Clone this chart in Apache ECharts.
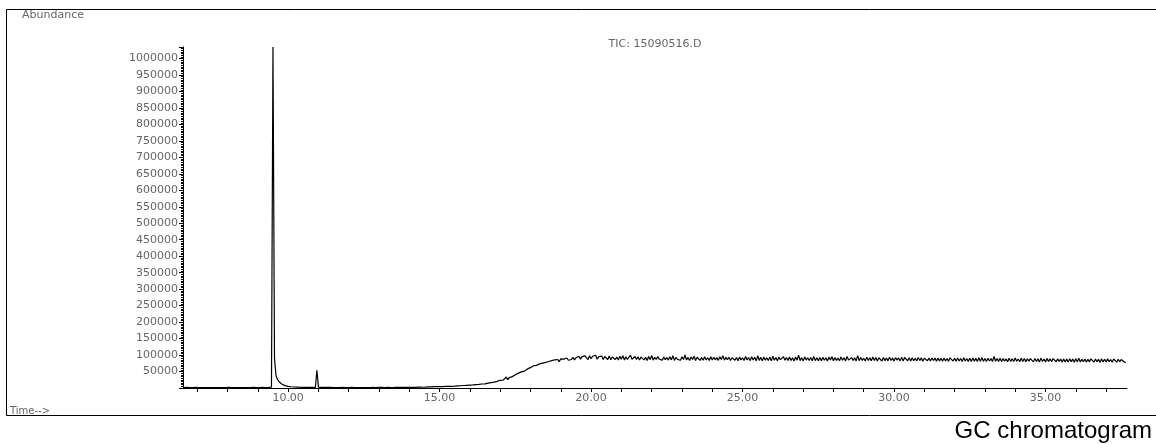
<!DOCTYPE html>
<html><head><meta charset="utf-8">
<script src="https://cdn.jsdelivr.net/npm/echarts@6/dist/echarts.min.js"></script>
<style>html,body{margin:0;padding:0;background:#fff}#c{width:1156px;height:444px}</style>
</head><body><div id="c"></div>
<script>
// Acquisition grid (minutes)
const scanStart = 6.55;
const scanStep = 0.05;
// Total ion current abundance, one value per scan
const abundance = [
1500,1300,1600,1200,1500,1400,1100,1500,1600,1300,1200,1500,1400,1700,1400,1200,1400,1600,1500,1300,
1200,1500,1400,1600,1300,1100,1400,1500,1200,1500,1600,1300,1200,1400,1500,1700,1300,1200,1500,1400,
1300,1600,1400,1200,1500,1300,1600,1500,1200,1400,1500,1300,1600,1400,1500,1700,1600,1800,2200,1035000,
90000,38000,26000,19000,15000,11500,9000,7200,6000,5000,4300,3800,3400,3000,2800,2600,2400,2200,2100,2000,
1900,1800,1900,1700,1800,1700,1800,1600,54000,2600,1800,1700,1600,1700,1500,1600,1500,1600,1400,1500,
1500,1400,1600,1300,1500,1700,1400,1300,1600,1500,1400,1600,1300,1500,1700,1400,1600,1500,1300,1500,
1600,1400,1700,1500,1300,1600,1800,1500,1400,1700,1600,1800,1500,1400,1700,1900,1600,1500,1800,1700,
1800,2000,1700,1900,2200,1800,2100,1900,2300,2000,1800,2200,2500,2000,2300,2600,2100,2400,2800,2300,
2300,3400,2100,3600,2800,3900,2600,4100,3000,4400,3200,4300,3500,4800,3300,5200,3900,4900,4200,5600,
4200,6400,4800,6900,5300,7600,5700,8200,6100,8800,7000,9300,7500,10100,8300,10900,9200,12100,10300,12600,
12900,14600,13100,16400,15200,17900,16000,20300,18100,23400,21600,24100,23800,33500,25300,31400,29800,34500,33400,39900,
40500,45200,42600,48800,47100,51200,50600,57900,54400,61800,58600,67900,63900,68700,67400,73200,68400,75600,72100,77800,
74600,80300,76800,82900,78400,85200,80100,86500,79800,88600,82900,87700,83400,91100,84200,89300,86600,92800,85400,91700,
88200,96500,87700,95400,89800,97600,91800,86300,98100,88900,96200,90400,99300,87100,94600,89800,97100,86200,95500,90800,
86400,96800,85900,94100,98600,86700,93900,84800,96200,87600,97900,85100,94700,86400,92300,99900,87200,84600,95500,86800,
94700,84900,93800,97300,85200,92900,83700,95400,86100,98800,84600,93300,86600,95200,87700,92900,84500,94100,85900,92400,
84600,94900,85300,97800,83700,93200,86900,91800,84300,95100,86600,100400,84900,92800,83200,94300,86500,96500,83700,93400,
95100,83900,92800,84400,94500,85300,91900,83700,95100,84900,93200,85600,92300,83800,94700,86300,98300,84500,93100,85600,
93500,83400,91900,96200,84100,92800,82600,94300,85300,91900,83600,95600,84800,92700,83000,94900,85200,93400,82500,97700,
83800,92900,82400,94200,84600,91900,83700,93300,82300,96600,84100,92500,82900,93800,85900,83400,95100,84100,92800,83600,
94400,83300,91700,82200,93900,84400,99300,83100,92200,81600,94500,84800,91900,83300,92600,82700,95700,83100,91900,82900,
92400,82800,93600,84200,91900,82100,93700,84700,94800,82500,92300,83900,90900,82700,93900,84300,91600,82200,95400,84600,
82900,92200,83400,91700,82300,98100,83100,92600,83800,90300,82100,93700,83400,91900,82500,94100,83800,92400,81600,91900,
91300,81800,92500,83100,91200,82400,93700,83800,90900,81600,92200,84900,91300,82300,93700,81700,92600,96800,82800,91700,
81900,91600,82700,90300,81800,92900,83200,91500,81100,90600,93800,82900,90600,81800,91300,83400,90800,81100,91300,82200,
90400,81100,91300,82200,89300,80900,91600,94700,81800,89900,81200,90900,82400,89500,80500,91900,82100,89600,80800,90300,
80700,90900,81200,89900,80600,91800,81300,92400,80900,89500,80100,90100,81800,89200,80400,95800,81100,89700,80800,90600,
80600,89700,81200,88400,79400,90300,80900,88800,80200,91100,81500,88100,79900,90200,80700,89800,79700,88600,81400,89100,
88100,79300,89600,80200,88400,78800,90700,80600,87900,79100,89200,80800,88500,79700,89300,92600,79600,88400,80900,87800,
78400,88300,79100,87600,78600,89100,79900,87700,78200,88800,79400,90400,78800,87500,79700,88100,78600,87300,79400,88700,
87900,78400,88200,79600,86900,77800,88800,79200,87300,78700,88400,79900,86600,78300,87900,91200,78600,87200,79800,86600,
87100,78800,76900
];
const timeRange = [6.53, 37.69];
const timeTickRange = [7, 37];
const abundanceRange = [0, 1035000];
const abundanceStep = 50000;
const titleText = 'TIC: 15090516.D';
const yName = 'Abundance';
const xName = 'Time-->';
const caption = 'GC chromatogram';

const data = abundance.map((v, i) => [+(scanStart + i * scanStep).toFixed(2), v]);

const chart = echarts.init(document.getElementById('c'), null, {renderer: 'canvas'});
const pxPerMin = (1156 - 183 - 29) / (timeRange[1] - timeRange[0]);
const labelStyle = {color: '#666', fontSize: 11, fontFamily: 'DejaVu Sans'};
chart.setOption({
  animation: false,
  backgroundColor: '#fff',
  grid: [
    {left: 183, right: 29, top: 47, bottom: 56, containLabel: false, outerBoundsMode: 'none'},
    {left: 183 + (timeTickRange[0] - timeRange[0]) * pxPerMin,
     right: 29 + (timeRange[1] - timeTickRange[1]) * pxPerMin,
     top: 47, bottom: 56, containLabel: false, outerBoundsMode: 'none'}
  ],
  xAxis: [
    {gridIndex: 0, type: 'value', min: timeRange[0], max: timeRange[1],
     axisLine: {show: true, lineStyle: {color: '#000', width: 1}},
     axisTick: {show: false}, axisLabel: {show: false}, splitLine: {show: false}},
    {gridIndex: 1, type: 'value', min: timeTickRange[0], max: timeTickRange[1], interval: 1,
     axisLine: {show: false},
     axisTick: {show: true, length: 4, lineStyle: {color: '#000', width: 1}},
     axisLabel: Object.assign({margin: 5, showMinLabel: true, showMaxLabel: true,
       formatter: v => (Math.round(v) % 5 === 0 ? v.toFixed(2) : '')}, labelStyle),
     splitLine: {show: false}}
  ],
  yAxis: [
    {gridIndex: 0, type: 'value', min: abundanceRange[0], max: abundanceRange[1], interval: abundanceStep,
     axisLine: {show: true, lineStyle: {color: '#000', width: 1}},
     axisTick: {show: true, length: 4, lineStyle: {color: '#000', width: 1}},
     minorTick: {show: true, splitNumber: 10, length: 2, lineStyle: {color: '#000', width: 1}},
     axisLabel: Object.assign({margin: 5,
       formatter: v => (v > 0 && v % abundanceStep === 0 ? String(v) : '')}, labelStyle),
     splitLine: {show: false}, minorSplitLine: {show: false}},
    {gridIndex: 1, type: 'value', show: false, min: 0, max: 1}
  ],
  series: [{
    type: 'line', xAxisIndex: 0, yAxisIndex: 0, data: data,
    symbol: 'none', showSymbol: false, silent: true,
    lineStyle: {color: '#000', width: 1.2}
  }],
  graphic: [
    {type: 'rect', silent: true, shape: {x: 6.5, y: 9.5, width: 1160, height: 406},
     style: {fill: 'none', stroke: '#000', lineWidth: 1}},
    {type: 'text', x: 22, y: 15, silent: true,
     style: {text: yName, fill: '#666', fontSize: 11, fontFamily: 'DejaVu Sans', align: 'left', verticalAlign: 'middle'}},
    {type: 'text', x: 10, y: 411, silent: true,
     style: {text: xName, fill: '#666', fontSize: 10, fontFamily: 'DejaVu Sans', align: 'left', verticalAlign: 'middle'}},
    {type: 'text', x: 655, y: 44, silent: true,
     style: {text: titleText, fill: '#666', fontSize: 11, fontFamily: 'DejaVu Sans', align: 'center', verticalAlign: 'middle'}},
    {type: 'text', x: 1152, y: 431, silent: true,
     style: {text: caption, fill: '#000', fontSize: 24, fontFamily: 'Liberation Sans', align: 'right', verticalAlign: 'middle'}}
  ]
});
</script>
</body></html>
